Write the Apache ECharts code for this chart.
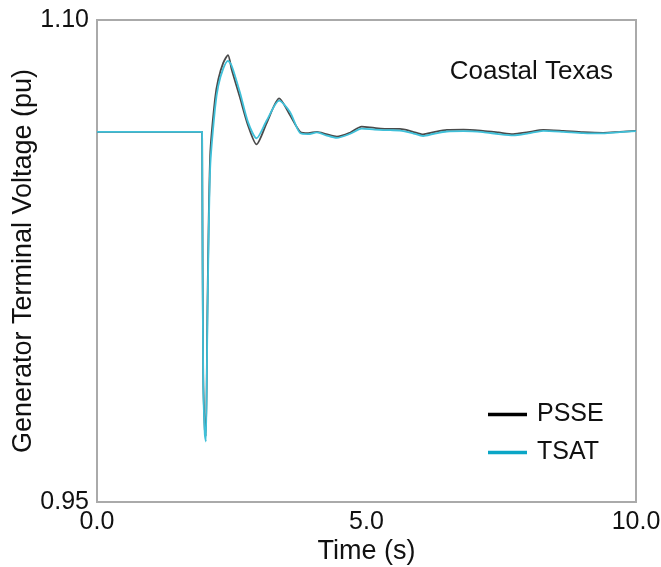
<!DOCTYPE html>
<html>
<head>
<meta charset="utf-8">
<script src="https://cdn.jsdelivr.net/npm/echarts@6/dist/echarts.min.js"></script>
<style>html,body{margin:0;padding:0;background:#fff;}#c{width:661px;height:567px;}</style>
</head>
<body>
<div id="c"></div>
<script>
const time = [0, 1.0, 1.90, 1.95, 1.96, 1.97, 2.00, 2.02, 2.05, 2.10, 2.19, 2.25, 2.34, 2.43, 2.50, 2.65, 2.80, 2.96, 3.15, 3.38, 3.58, 3.77, 3.92, 4.08, 4.25, 4.45, 4.70, 4.91, 5.15, 5.44, 5.62, 5.85, 6.05, 6.25, 6.49, 6.80, 7.16, 7.45, 7.72, 8.00, 8.28, 8.65, 9.02, 9.39, 9.70, 10.0];
const psse = [1.0652, 1.0652, 1.0652, 1.0652, 1.0652, 0.990, 0.9725, 0.9705, 1.012, 1.058, 1.0755, 1.0815, 1.0866, 1.0891, 1.0845, 1.0760, 1.0673, 1.0613, 1.0680, 1.0756, 1.0704, 1.0652, 1.0648, 1.0652, 1.0645, 1.0637, 1.0650, 1.0668, 1.0664, 1.0661, 1.0661, 1.0653, 1.0644, 1.0651, 1.0658, 1.0659, 1.0655, 1.0650, 1.0645, 1.0651, 1.0658, 1.0655, 1.0651, 1.0649, 1.0652, 1.0655];
const tsat = [1.0652, 1.0652, 1.0652, 1.0652, 1.0652, 0.988, 0.9710, 0.9688, 1.008, 1.054, 1.0725, 1.0795, 1.0848, 1.0873, 1.0857, 1.0776, 1.0683, 1.0632, 1.0688, 1.0749, 1.0714, 1.0648, 1.0645, 1.0650, 1.0641, 1.0633, 1.0646, 1.0662, 1.0659, 1.0657, 1.0656, 1.0648, 1.0639, 1.0646, 1.0653, 1.0654, 1.0651, 1.0645, 1.0641, 1.0647, 1.0655, 1.0652, 1.0648, 1.0647, 1.0651, 1.0654];
const xTicks = [0, 5, 10];
const yTicks = [0.95, 1.10];
const seriesNames = ['PSSE', 'TSAT'];
const regionLabel = 'Coastal Texas';

const FONT = 'Liberation Sans';
const chart = echarts.init(document.getElementById('c'), null, {renderer: 'canvas'});
const pair = arr => time.map((t, i) => [t, arr[i]]);
chart.setOption({
  animation: false,
  backgroundColor: '#fff',
  grid: {left: 97, right: 25, top: 20, bottom: 65, outerBoundsMode: 'none', containLabel: false,
         show: true, borderColor: '#aaaaaa', borderWidth: 2, backgroundColor: 'transparent'},
  xAxis: {
    type: 'value', min: xTicks[0], max: xTicks[xTicks.length - 1], interval: 5,
    name: 'Time (s)', nameLocation: 'middle', nameGap: 36, nameMoveOverlap: false,
    nameTextStyle: {fontFamily: FONT, fontSize: 27, color: '#111'},
    axisLine: {show: true, lineStyle: {color: '#aaaaaa', width: 2}},
    axisTick: {show: false},
    splitLine: {show: false},
    axisLabel: {fontFamily: FONT, fontSize: 25, color: '#111', margin: 8, formatter: v => v.toFixed(1)}
  },
  yAxis: {
    type: 'value', min: yTicks[0], max: yTicks[yTicks.length - 1],
    name: 'Generator Terminal Voltage (pu)', nameLocation: 'middle', nameGap: 60, nameMoveOverlap: false,
    nameTextStyle: {fontFamily: FONT, fontSize: 27, color: '#111'},
    axisLine: {show: true, lineStyle: {color: '#aaaaaa', width: 2}},
    axisTick: {show: false},
    splitLine: {show: false},
    axisLabel: {fontFamily: FONT, fontSize: 25, color: '#111', margin: 8, customValues: yTicks, formatter: v => v.toFixed(2)}
  },
  legend: {
    orient: 'vertical', left: 483, top: 397, itemGap: 13,
    icon: 'rect', itemWidth: 39, itemHeight: 3.5,
    textStyle: {fontFamily: FONT, fontSize: 25, color: '#111', padding: [0, 0, 0, 5]},
    data: [
      {name: seriesNames[0], itemStyle: {color: '#000'}},
      {name: seriesNames[1], itemStyle: {color: '#0aa6c6'}}
    ]
  },
  graphic: [{
    type: 'text', right: 48, top: 59,
    style: {text: regionLabel, fontFamily: FONT, fontSize: 26, fill: '#111'}
  }],
  series: [
    {name: seriesNames[0], type: 'line', data: pair(psse), smooth: 0.25, showSymbol: false, symbol: 'none',
     lineStyle: {color: '#4a4a4a', width: 1.8}, itemStyle: {color: '#000'}, z: 2},
    {name: seriesNames[1], type: 'line', data: pair(tsat), smooth: 0.25, showSymbol: false, symbol: 'none',
     lineStyle: {color: '#3fc0d9', width: 1.8}, itemStyle: {color: '#0aa6c6'}, z: 3}
  ]
});
</script>
</body>
</html>
